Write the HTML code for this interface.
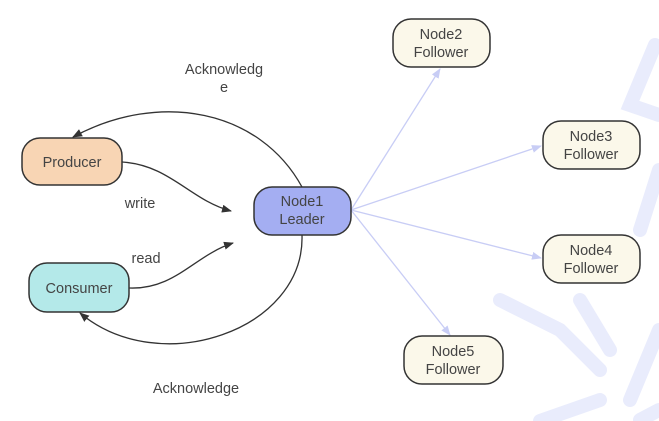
<!DOCTYPE html>
<html><head><style>
body{margin:0;background:#fff;}
svg{display:block;font-family:"Liberation Sans",sans-serif;}
</style></head><body>
<svg width="659" height="421" viewBox="0 0 659 421">
<defs>
<marker id="a" markerWidth="10" markerHeight="8" refX="9" refY="4" orient="auto" markerUnits="userSpaceOnUse"><path d="M0,0 L10,4 L0,8 Z" fill="#333"/></marker>
<marker id="b" markerWidth="10" markerHeight="8" refX="9" refY="4" orient="auto" markerUnits="userSpaceOnUse"><path d="M0,0 L10,4 L0,8 Z" fill="#c8cdf5"/></marker>
</defs>
<g fill="none" stroke="#e9ecfc" stroke-width="14" stroke-linecap="round">
<path d="M655,45 L630,105 L659,115"/>
<path d="M659,170 L640,230"/>
<path d="M500,300 L560,330 L600,370"/>
<path d="M580,300 L610,350"/>
<path d="M659,330 L630,400"/>
<path d="M540,421 L600,400"/>
<path d="M640,420 L659,410"/>
</g>
<g stroke="#c8cdf5" stroke-width="1.3" fill="none" marker-end="url(#b)">
<line x1="351" y1="210" x2="440" y2="69"/>
<line x1="351" y1="210" x2="541" y2="146"/>
<line x1="351" y1="210" x2="541" y2="258"/>
<line x1="351" y1="210" x2="450" y2="335"/>
</g>
<g stroke="#333" stroke-width="1.3" fill="none" marker-end="url(#a)">
<path d="M302,187 C260,110 160,90 73,137"/>
<path d="M122,162 C170,165 190,200 231,211"/>
<path d="M129,288 C175,290 195,255 233,243"/>
<path d="M302,235 C305,330 160,380 80,313"/>
</g>
<g stroke="#333" stroke-width="1.5">
<rect x="22" y="138" width="100" height="47" rx="18" fill="#f8d5b4"/>
<rect x="29" y="263" width="100" height="49" rx="18" fill="#b4e9e9"/>
<rect x="254" y="187" width="97" height="48" rx="18" fill="#a4aef2"/>
<rect x="393" y="19" width="97" height="48" rx="18" fill="#fbf8ea"/>
<rect x="543" y="121" width="97" height="48" rx="18" fill="#fbf8ea"/>
<rect x="543" y="235" width="97" height="48" rx="18" fill="#fbf8ea"/>
<rect x="404" y="336" width="99" height="48" rx="18" fill="#fbf8ea"/>
</g>
<g fill="#444" font-size="14.5" text-anchor="middle">
<text x="72" y="167">Producer</text>
<text x="79" y="293">Consumer</text>
<text x="302" y="206">Node1</text><text x="302" y="224">Leader</text>
<text x="441" y="39">Node2</text><text x="441" y="57">Follower</text>
<text x="591" y="141">Node3</text><text x="591" y="159">Follower</text>
<text x="591" y="255">Node4</text><text x="591" y="273">Follower</text>
<text x="453" y="356">Node5</text><text x="453" y="374">Follower</text>
<text x="224" y="74">Acknowledg</text><text x="224" y="92">e</text>
<text x="140" y="208">write</text>
<text x="146" y="263">read</text>
<text x="196" y="393">Acknowledge</text>
</g>
</svg>
</body></html>
